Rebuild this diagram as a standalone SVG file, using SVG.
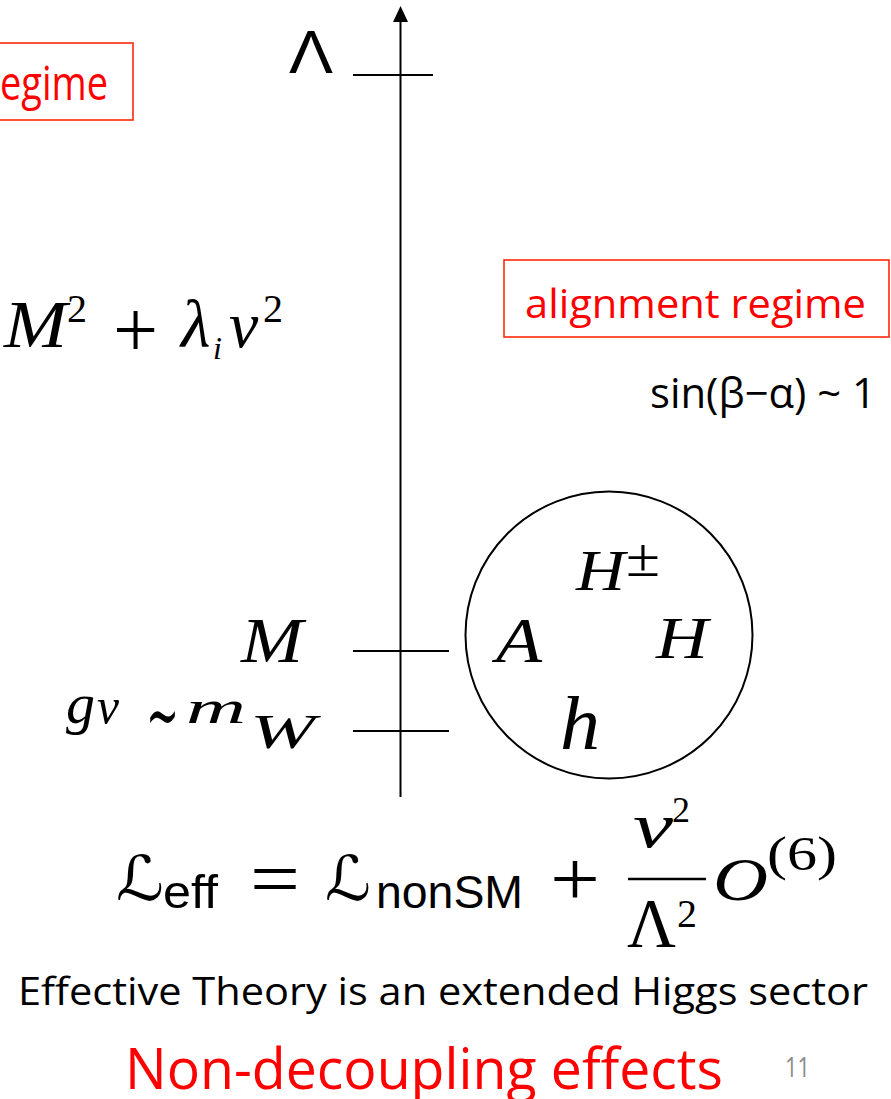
<svg xmlns="http://www.w3.org/2000/svg" width="891" height="1099" viewBox="0 0 891 1099">
<defs>
<style>
.sans{font-family:"Open Sans","Liberation Sans",sans-serif;}
.math{font-family:"Liberation Serif","DejaVu Serif",serif;font-style:italic;fill:#000;}
.rm{font-family:"Liberation Serif","DejaVu Serif",serif;fill:#000;}
.cmss{font-family:"Liberation Sans","DejaVu Sans",sans-serif;fill:#000;}
.red{fill:#ff0000;}
.box{fill:none;stroke:#ff2a0a;stroke-width:1.6;}
.axis{stroke:#000;stroke-width:2;fill:none;}
</style>
</defs>
<rect width="891" height="1099" fill="#fff"/>

<g id="connectors">
<line class="axis" x1="400.5" y1="797" x2="400.5" y2="20"/>
<path d="M393,22 L400.5,6 L408,22 Z" fill="#000"/>
<line class="axis" x1="353" y1="75" x2="433" y2="75"/>
<line class="axis" x1="353" y1="651" x2="449" y2="651"/>
<line class="axis" x1="353" y1="731" x2="449" y2="731"/>
</g>

<g id="label-lambda">
<text class="cmss" x="289" y="73" font-size="62" textLength="44" lengthAdjust="spacingAndGlyphs">Λ</text>
</g>

<g id="box-left">
<rect class="box" x="-2" y="43" width="135" height="77"/>
<text class="sans red" x="0" y="100" font-size="47" textLength="108" lengthAdjust="spacingAndGlyphs">egime</text>
</g>

<g id="box-right">
<rect class="box" x="504" y="260" width="385" height="77"/>
<text class="sans red" x="525" y="318" font-size="41" textLength="341" lengthAdjust="spacingAndGlyphs">alignment regime</text>
</g>

<g id="label-sin">
<text class="sans" x="650" y="408" font-size="42" textLength="226" lengthAdjust="spacingAndGlyphs">sin(β−α) ~ 1</text>
</g>

<g id="label-mass-formula">
<text class="math" x="4" y="347" font-size="68" textLength="63" lengthAdjust="spacingAndGlyphs">M</text>
<text class="rm" x="67" y="322" font-size="40">2</text>
<text class="rm" x="113" y="357" font-size="80">+</text>
<text class="math" x="181" y="347" font-size="68">λ</text>
<text class="math" x="213" y="359" font-size="32">i</text>
<text class="math" x="229" y="347" font-size="66">v</text>
<text class="rm" x="263" y="322" font-size="40">2</text>
</g>

<g id="label-M">
<text class="math" x="241" y="662" font-size="63" textLength="62" lengthAdjust="spacingAndGlyphs">M</text>
</g>

<g id="label-gv">
<text class="math" x="66" y="723" font-size="56" textLength="29" lengthAdjust="spacingAndGlyphs">g</text>
<text class="math" x="97" y="723" font-size="50" textLength="22" lengthAdjust="spacingAndGlyphs">v</text>
<text class="rm" x="146" y="741" font-size="76" textLength="33" lengthAdjust="spacingAndGlyphs">∼</text>
<text class="math" x="186" y="723" font-size="46" textLength="60" lengthAdjust="spacingAndGlyphs">m</text>
<text class="math" x="250" y="748" font-size="48" textLength="65" lengthAdjust="spacingAndGlyphs">W</text>
</g>

<g id="node-higgs">
<circle cx="609" cy="635" r="143.5" fill="none" stroke="#000" stroke-width="2"/>
<text class="math" x="576" y="590" font-size="58" textLength="49" lengthAdjust="spacingAndGlyphs">H</text>
<text class="rm" x="626" y="576" font-size="54" textLength="34" lengthAdjust="spacingAndGlyphs">±</text>
<text class="math" x="496" y="662" font-size="63" textLength="46" lengthAdjust="spacingAndGlyphs">A</text>
<text class="math" x="656" y="658" font-size="60" textLength="52" lengthAdjust="spacingAndGlyphs">H</text>
<text class="math" x="560" y="749" font-size="76" textLength="40" lengthAdjust="spacingAndGlyphs">h</text>
</g>

<g id="equation">
<text x="116" y="900" font-size="62" font-family="DejaVu Serif, DejaVu Sans, serif" font-style="italic" textLength="48" lengthAdjust="spacingAndGlyphs">ℒ</text>
<text class="cmss" x="163" y="908" font-size="46" textLength="55" lengthAdjust="spacingAndGlyphs">eff</text>
<text class="rm" x="250" y="905" font-size="78" textLength="50" lengthAdjust="spacingAndGlyphs">=</text>
<text x="325" y="900" font-size="62" font-family="DejaVu Serif, DejaVu Sans, serif" font-style="italic" textLength="46" lengthAdjust="spacingAndGlyphs">ℒ</text>
<text class="cmss" x="376" y="908" font-size="46" textLength="147" lengthAdjust="spacingAndGlyphs">nonSM</text>
<text class="rm" x="550" y="905" font-size="78" textLength="50" lengthAdjust="spacingAndGlyphs">+</text>
<text class="math" x="633" y="847" font-size="64" textLength="40" lengthAdjust="spacingAndGlyphs">v</text>
<text class="rm" x="672" y="822" font-size="36">2</text>
<line x1="628" y1="879" x2="706" y2="879" stroke="#000" stroke-width="2.5"/>
<text class="rm" x="627" y="947" font-size="70" textLength="49" lengthAdjust="spacingAndGlyphs">Λ</text>
<text class="rm" x="677" y="927" font-size="40">2</text>
<text class="math" x="713" y="900" font-size="62" textLength="55" lengthAdjust="spacingAndGlyphs">O</text>
<text class="rm" x="767" y="870" font-size="48" textLength="70" lengthAdjust="spacingAndGlyphs">(6)</text>
</g>

<g id="caption">
<text class="sans" x="18" y="1005" font-size="39" textLength="850" lengthAdjust="spacingAndGlyphs">Effective Theory is an extended Higgs sector</text>
<text class="sans red" x="125" y="1089" font-size="57" textLength="598" lengthAdjust="spacingAndGlyphs">Non-decoupling effects</text>
<text class="sans" x="785" y="1077" font-size="27" fill="#8c8c8c" textLength="25" lengthAdjust="spacingAndGlyphs">11</text>
</g>
</svg>
